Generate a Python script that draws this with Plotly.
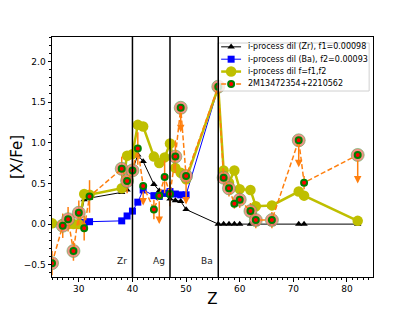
import plotly.graph_objects as go

# ---------------- data ----------------
Z = [25, 27, 28, 29, 30, 31, 32, 38, 39, 40, 41, 42, 44, 45, 46, 47, 48, 49, 50,
     56, 57, 58, 59, 60, 62, 63, 66, 71, 72, 82]

model_zr = [0.00, 0.00, 0.00, 0.00, 0.00, 0.30, 0.32, 0.39, 0.42, 0.66, 0.85, 0.77, 0.49, 0.41,
            0.36, 0.31, 0.29, 0.28, 0.18, 0.00, 0.00, 0.00, 0.00, 0.00, 0.00, 0.00, 0.00, 0.00,
            0.00, 0.00]
model_ba = [0.00, 0.00, 0.00, 0.00, 0.00, 0.02, 0.03, 0.04, 0.10, 0.16, 0.27, 0.42, 0.35, 0.34,
            0.38, 0.40, 0.37, 0.36, 0.36, 1.68, None, None, None, None, None, None, None, None,
            None, None]
model_f12 = [0.01, 0.00, 0.00, 0.00, 0.00, 0.37, 0.36, 0.44, 0.84, 0.86, 1.22, 1.20, 0.83, 0.75,
             0.82, 0.99, 0.69, 0.63, 0.55, 1.68, 0.66, 0.51, 0.66, 0.43, 0.42, 0.22, 0.23, 0.40,
             0.35, 0.04]

star = [-0.48, -0.02, 0.06, -0.33, 0.14, -0.05, 0.34, 0.68, 0.53, 0.66, 0.93, 0.47, 0.18, 0.35,
        0.58, 0.37, 0.83, 1.43, 0.59, 1.69, 0.57, 0.44, 0.25, 0.30, 0.16, 0.05, 0.05, 1.03,
        0.51, 0.85]
star_err = [0.15, 0.15, 0.15, 0.12, 0.15, 0.15, 0.20, 0.15, 0.15, 0.15, 0.20, 0.0, 0.12, 0.0,
            0.20, 0.15, 0.20, 0.0, 0.0, 0.08, 0.10, 0.10, 0.06, 0.10, 0.10, 0.10, 0.10, 0.0,
            0.08, 0.0]
# length of the downward upper-limit arrows (0 = no arrow)
star_uplim = [0, 0, 0, 0, 0, 0, 0, 0, 0, 0, 0, 0.24, 0, 0.35, 0, 0, 0, 0.30, 0.35, 0, 0, 0, 0,
              0, 0, 0, 0, 0.33, 0, 0.35]
star_halo = [1, 1, 1, 1, 1, 0, 0, 1, 1, 1, 0, 0, 0, 0, 0, 0, 1, 1, 1, 1, 1, 1, 0, 1, 1, 1, 1, 1,
             0, 1]

series_names = ["i-process dil (Zr), f1=0.00098", "i-process dil (Ba), f2=0.00093",
                "i-process dil f=f1,f2", "2M13472354+2210562"]

marked_elements = ["Zr", "Ag", "Ba"]
marked_Z = [40, 47, 56]

x_range = [25, 84.85]
y_range = [-0.65, 2.3]
label_y = -0.45

# ---------------- styles / layout constants ----------------
FONT = "DejaVu Sans"
ORANGE = "#ff7f0e"
STYLES = [
    dict(line=dict(color="black", width=1),
         marker=dict(symbol="triangle-up", size=6.5, color="black")),
    dict(line=dict(color="#0000ff", width=1),
         marker=dict(symbol="square", size=7, color="#0000ff")),
    dict(line=dict(color="#bfbf00", width=2.5),
         marker=dict(symbol="circle", size=10.5, color="#bfbf00")),
    dict(line=dict(color=ORANGE, width=1.5, dash="5px,2.5px"),
         marker=dict(symbol="circle", size=6, color="red", line=dict(color="green", width=2))),
]

# legend geometry (fractions of the plotting area)
LEG_BOX_X = [0.517, 0.988]
LEG_BOX_Y = [0.775, 0.975]
LEG_ROW_TOP = 0.959
LEG_ROW_PITCH = 0.0515
LEG_LINE_X = [0.527, 0.589]
LEG_TEXT_X = 0.603

fig = go.Figure()

for name, ys, st in zip(series_names[:3], [model_zr, model_ba, model_f12], STYLES[:3]):
    fig.add_trace(go.Scatter(x=Z, y=ys, mode="lines+markers", name=name,
                             connectgaps=False, **st))

# error bars of the star
fig.add_trace(go.Scatter(
    x=Z, y=star, mode="markers", showlegend=False, hoverinfo="skip",
    marker=dict(size=1, color="rgba(0,0,0,0)"),
    error_y=dict(type="data", array=star_err, visible=True, color=ORANGE,
                 thickness=1.5, width=0),
))

# halo behind the star markers
hx = [z for z, h in zip(Z, star_halo) if h]
hy = [v for v, h in zip(star, star_halo) if h]
fig.add_trace(go.Scatter(
    x=hx, y=hy, mode="markers", showlegend=False, hoverinfo="skip",
    marker=dict(symbol="circle", size=13, color="rgba(240,128,114,0.85)",
                line=dict(color="rgba(90,170,90,0.6)", width=1)),
))

fig.add_trace(go.Scatter(x=Z, y=star, mode="lines+markers", name=series_names[3],
                         **STYLES[3]))

# upper-limit arrows
for z, v, L in zip(Z, star, star_uplim):
    if L > 0:
        fig.add_annotation(
            x=z, y=v - L, ax=z, ay=v, xref="x", yref="y", axref="x", ayref="y",
            text="", showarrow=True, arrowhead=2, arrowsize=1, arrowwidth=1.5,
            arrowcolor=ORANGE, startstandoff=4,
        )

# vertical marker lines and labels
for el, z in zip(marked_elements, marked_Z):
    fig.add_shape(type="line", x0=z, x1=z, y0=0, y1=1, xref="x", yref="paper",
                  line=dict(color="black", width=1.5))
    fig.add_annotation(x=z, y=label_y, xref="x", yref="y", text=el, showarrow=False,
                       xanchor="right", xshift=-3,
                       font=dict(family=FONT, size=9, color="#222222"))

# ---------------- legend (matplotlib-like, drawn on an overlay axis) ----------------
bx0, bx1 = LEG_BOX_X
by0, by1 = LEG_BOX_Y
fig.add_trace(go.Scatter(
    x=[bx0, bx1, bx1, bx0, bx0], y=[by0, by0, by1, by1, by0], xaxis="x2", yaxis="y2",
    mode="lines", fill="toself", fillcolor="rgba(255,255,255,0.8)",
    line=dict(color="#d0d0d0", width=1), showlegend=False, hoverinfo="skip",
))
for i, (name, st) in enumerate(zip(series_names, STYLES)):
    ry = LEG_ROW_TOP - i * LEG_ROW_PITCH
    fig.add_trace(go.Scatter(x=LEG_LINE_X, y=[ry, ry], xaxis="x2", yaxis="y2",
                             mode="lines", line=st["line"], showlegend=False,
                             hoverinfo="skip"))
    fig.add_trace(go.Scatter(x=[sum(LEG_LINE_X) / 2], y=[ry], xaxis="x2", yaxis="y2",
                             mode="markers", marker=st["marker"], showlegend=False,
                             hoverinfo="skip"))
    fig.add_annotation(x=LEG_TEXT_X, y=ry, xref="paper", yref="paper", text=name,
                       showarrow=False, xanchor="left", yanchor="middle",
                       font=dict(family=FONT, size=8, color="black"))

axis_common = dict(
    showline=True, linecolor="black", linewidth=1, mirror=True,
    ticks="outside", ticklen=3.5, tickwidth=0.8, tickcolor="black",
    showgrid=False, zeroline=False,
    tickfont=dict(family=FONT, size=9, color="black"),
)

xaxis = dict(range=x_range, dtick=10, tick0=0,
             minor=dict(dtick=1, ticks="outside", ticklen=2, tickwidth=0.6,
                        tickcolor="black", showgrid=False),
             title=dict(text="Z", font=dict(family=FONT, size=15, color="black"), standoff=0),
             **axis_common)
yaxis = dict(range=y_range, dtick=0.5, tick0=0, tickformat=".1f",
             minor=dict(dtick=0.1, ticks="outside", ticklen=2, tickwidth=0.6,
                        tickcolor="black", showgrid=False),
             title=dict(text="[X/Fe]", font=dict(family=FONT, size=15, color="black"),
                        standoff=2),
             **axis_common)

# the page body has an 8px margin, so the figure is 8px smaller than the window
fig.update_layout(
    width=407, height=303,
    margin=dict(l=44, r=42, t=29, b=34, autoexpand=False),
    paper_bgcolor="white", plot_bgcolor="white",
    font=dict(family=FONT, size=9, color="black"),
    showlegend=False,
    xaxis=xaxis, yaxis=yaxis,
    xaxis2=dict(overlaying="x", range=[0, 1], visible=False, fixedrange=True),
    yaxis2=dict(overlaying="y", range=[0, 1], visible=False, fixedrange=True),
)

fig.write_html("out.html")
